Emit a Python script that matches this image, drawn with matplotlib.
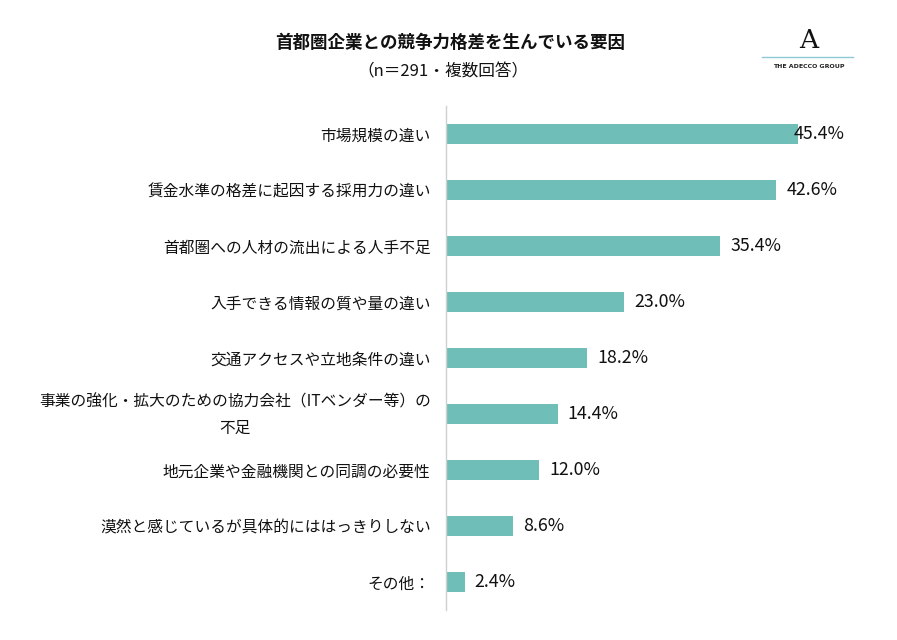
import matplotlib
matplotlib.use("Agg")
import matplotlib.pyplot as plt
from matplotlib.lines import Line2D
from matplotlib.transforms import ScaledTranslation

plt.rcParams['font.family'] = ['Noto Sans CJK JP', 'DejaVu Sans']

categories = [
    "市場規模の違い",
    "賃金水準の格差に起因する採用力の違い",
    "首都圏への人材の流出による人手不足",
    "入手できる情報の質や量の違い",
    "交通アクセスや立地条件の違い",
    "事業の強化・拡大のための協力会社（ITベンダー等）の\n不足",
    "地元企業や金融機関との同調の必要性",
    "漠然と感じているが具体的にははっきりしない",
    "その他：",
]
values = [45.4, 42.6, 35.4, 23.0, 18.2, 14.4, 12.0, 8.6, 2.4]
value_labels = ["45.4%", "42.6%", "35.4%", "23.0%", "18.2%", "14.4%", "12.0%", "8.6%", "2.4%"]

title = "首都圏企業との競争力格差を生んでいる要因"
subtitle = "（n＝291・複数回答）"

W, H = 897, 640
fig = plt.figure(figsize=(W / 100, H / 100), dpi=100)
ax = fig.add_axes([446 / W, (H - 610) / H, 387.5 / W, 504 / H])

bar_color = "#6FBFB8"
ypos = list(range(len(categories)))
ax.barh(ypos, values, height=0.36, color=bar_color, left=0)
ax.set_xlim(0, 50)
ax.set_ylim(len(categories) - 0.5, -0.5)

for s in ["top", "right", "bottom"]:
    ax.spines[s].set_visible(False)
ax.spines["left"].set_color("#D0D0D0")
ax.spines["left"].set_linewidth(1.0)
ax.set_xticks([])
ax.set_yticks(ypos)
ticklabels = ax.set_yticklabels(categories, fontsize=11.3, color="#111111", multialignment="center", linespacing=1.75)
ax.tick_params(axis="y", length=0, pad=11)
for tl in ticklabels:
    if "\n" in tl.get_text():
        tl.set_transform(tl.get_transform() + ScaledTranslation(0, 6 / 100, fig.dpi_scale_trans))

for y, v, lab in zip(ypos, values, value_labels):
    x = min(v + 1.3, 44.9)
    ax.text(x, y, lab, ha="left", va="center", fontsize=12.8, color="#111111")

fig.text(450 / W, 1 - 43 / H, title, ha="center", va="center", fontsize=12.6, fontweight="bold", color="#111111")
fig.text(443 / W, 1 - 72 / H, subtitle, ha="center", va="center", fontsize=12, color="#111111")

# logo
fig.text(809 / W, 1 - 41 / H, "A", ha="center", va="center", fontsize=19, family="DejaVu Serif", color="#111111")
fig.add_artist(Line2D([762 / W, 853 / W], [1 - 57 / H, 1 - 57 / H], color="#8CC9D0", linewidth=1.0, transform=fig.transFigure))
fig.text(809 / W, 1 - 66 / H, "THE ADECCO GROUP", ha="center", va="center", fontsize=4.5, fontweight="bold", family="DejaVu Sans", color="#222222")

fig.savefig("out.png", dpi=100, facecolor="white")
